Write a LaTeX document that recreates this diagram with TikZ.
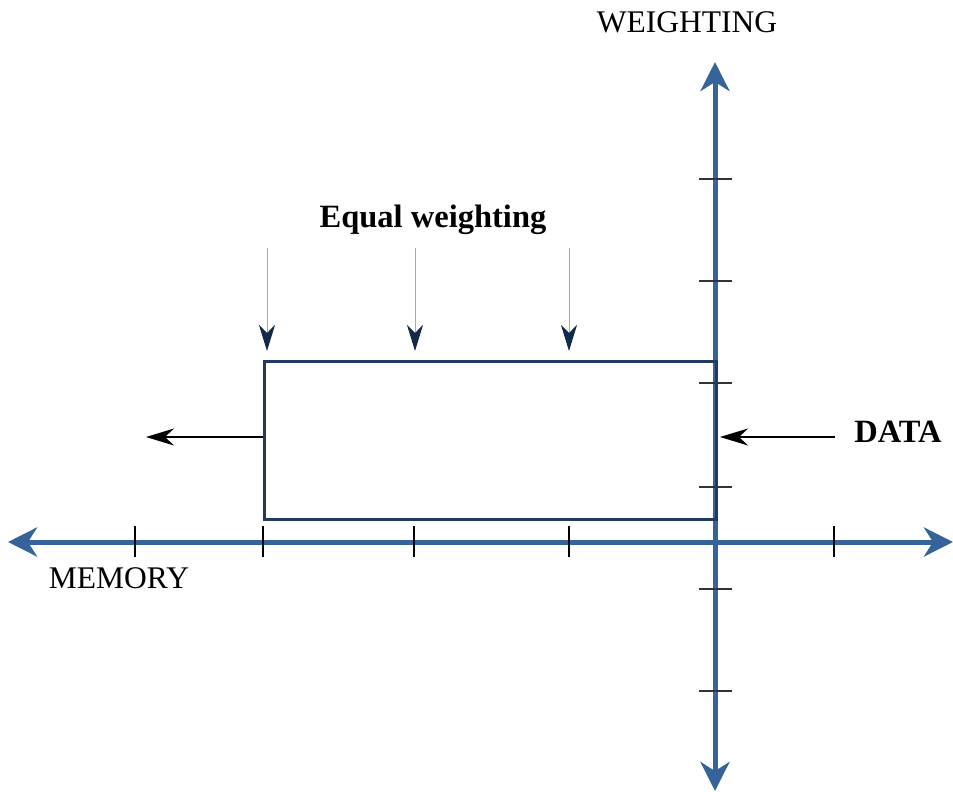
\documentclass[tikz,border=0pt]{standalone}
\usepackage{fontspec}
\setmainfont{Liberation Serif}
\usetikzlibrary{arrows.meta}
\definecolor{axisblue}{HTML}{36649A}
\definecolor{boxnavy}{HTML}{223A5E}
\definecolor{headnavy}{HTML}{13294A}
\definecolor{stemgray}{HTML}{A4A8B4}
\definecolor{tickgray}{HTML}{333333}
\tikzset{
  axisline/.style={draw=axisblue, line width=5pt,
    arrows={Stealth[length=29pt,width=29pt,inset=9pt]-Stealth[length=29pt,width=29pt,inset=9pt]}},
  xtick/.style={draw=black, line width=1.6pt},
  ytick/.style={draw=tickgray, line width=1.4pt},
  memorybox/.style={draw=boxnavy, line width=3.2pt},
  dropline/.style={draw=stemgray, line width=1pt,
    arrows={-Stealth[length=26pt,width=16pt,inset=8pt,color=headnavy]}},
  flowline/.style={draw=black, line width=2pt,
    arrows={-Stealth[length=28pt,width=17pt,inset=9pt]}},
  lbl/.style={font=\fontsize{31.5}{36}\selectfont, anchor=base, inner sep=0pt},
  boldlbl/.style={lbl, font=\fontsize{32.5}{36}\selectfont\bfseries},
}
\begin{document}
\begin{tikzpicture}[x=1pt, y=-1pt]
\useasboundingbox (0,0) rectangle (953,792);
% axes
\coordinate (xl) at (8,542);
\coordinate (xr) at (953,542);
\coordinate (yt) at (715,62);
\coordinate (yb) at (715,791);
\draw[axisline] (xl) -- (xr);
\draw[axisline] (yb) -- (yt);
% ticks on the memory axis
\foreach \x in {135,263,414,569,834}
  \draw[xtick] (\x,526) -- (\x,557);
% ticks on the weighting axis
\foreach \y in {179,281,383,487,589,691}
  \draw[ytick] (699,\y) -- (732,\y);
% memory window
\node[memorybox, minimum width=452pt, minimum height=158pt, inner sep=0pt, anchor=north west] (win) at (263,360) {};
% equal weighting arrows
\foreach \x [count=\i] in {267,415,569} {
  \coordinate (top\i) at (\x,248);
  \coordinate (bot\i) at (\x,351);
  \draw[dropline] (top\i) -- (bot\i);
}
% data flow in and out
\coordinate (outend) at (146,437);
\coordinate (instart) at (835,437);
\coordinate (inend) at (720,437);
\draw[flowline] (win.west |- outend) -- (outend);
\draw[flowline] (instart) -- (inend);
% labels
\node[lbl] (wlab) at (687,33) {WEIGHTING};
\node[lbl] (mlab) at (119,588) {MEMORY};
\node[boldlbl] (elab) at (433,227) {Equal weighting};
\node[boldlbl] (dlab) at (898,442) {DATA};
\end{tikzpicture}
\end{document}
